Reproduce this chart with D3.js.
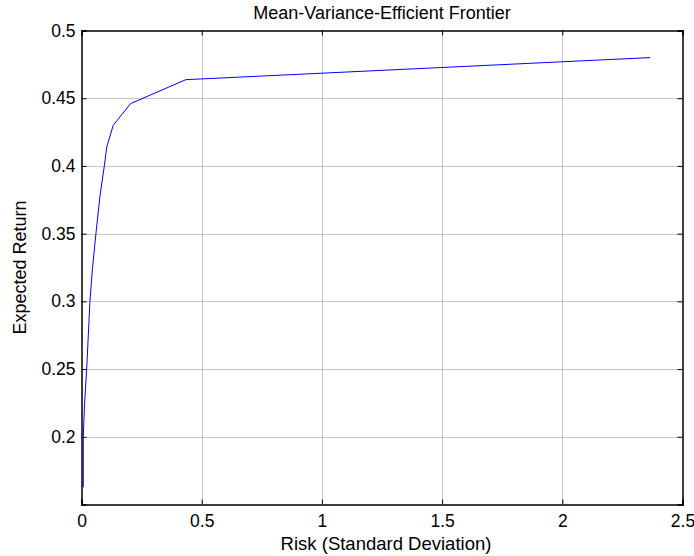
<!DOCTYPE html>
<html>
<head>
<meta charset="utf-8">
<script src="https://cdn.jsdelivr.net/npm/d3@7"></script>
<style>
  body { margin: 0; background: #fff; }
  svg text { font-family: "Liberation Sans", Arial, sans-serif; fill: #000; }
</style>
</head>
<body>
<script>
// Frontier points
const risk = [0.0075, 0.0075, 0.0125, 0.0216, 0.035, 0.045, 0.060, 0.077, 0.095, 0.105, 0.132, 0.204, 0.434, 2.366];
const ret  = [0.1627, 0.200, 0.2237, 0.250, 0.2998, 0.323, 0.350, 0.378, 0.400, 0.414, 0.430, 0.446, 0.4637, 0.480];
const xTicks = [0, 0.5, 1, 1.5, 2, 2.5];
const yTicks = [0.2, 0.25, 0.3, 0.35, 0.4, 0.45, 0.5];

const W = 694, H = 556;
const pLeft = 81.5, pRight = 682.5, pTop = 30.5, pBottom = 504.5;

const svg = d3.select('body').append('svg')
    .attr('width', W).attr('height', H);

const x = d3.scaleLinear().domain([0, 2.5]).range([pLeft, pRight]);
const y = d3.scaleLinear().domain([0.15, 0.5]).range([pBottom, pTop]);

// Grid
svg.append('g').selectAll('line')
    .data(xTicks.filter(d => d > 0 && d < 2.5))
    .enter().append('line')
    .attr('x1', d => Math.round(x(d)) + 0.5).attr('x2', d => Math.round(x(d)) + 0.5)
    .attr('y1', pTop).attr('y2', pBottom)
    .attr('stroke', '#8c8c8c').attr('stroke-dasharray', '1,1');
svg.append('g').selectAll('line')
    .data(yTicks.filter(d => d < 0.5))
    .enter().append('line')
    .attr('y1', d => Math.round(y(d)) + 0.5).attr('y2', d => Math.round(y(d)) + 0.5)
    .attr('x1', pLeft).attr('x2', pRight)
    .attr('stroke', '#8c8c8c').attr('stroke-dasharray', '1,1');

// Line
const line = d3.line().x((d, i) => x(risk[i])).y(d => y(d));
svg.append('path')
    .datum(ret)
    .attr('d', line)
    .attr('fill', 'none')
    .attr('stroke', '#0000ff')
    .attr('stroke-width', 1);

// Axes (ticks inside, box on all sides)
const fmt = d => String(d);
const axB = d3.axisBottom(x).tickValues(xTicks).tickSize(-5).tickPadding(10).tickFormat(fmt);
const axL = d3.axisLeft(y).tickValues(yTicks).tickSize(-5).tickPadding(6).tickFormat(fmt);
const axT = d3.axisTop(x).tickValues(xTicks).tickSize(-5).tickFormat('');
const axR = d3.axisRight(y).tickValues(yTicks).tickSize(-5).tickFormat('');

function style(g) {
  g.select('.domain').attr('stroke', '#000').attr('stroke-width', 1.5);
  g.selectAll('.tick line').attr('stroke', '#000');
  g.selectAll('.tick text').style('font-size', '17.5px').attr('fill', '#000');
}
svg.append('g').attr('transform', `translate(0,${pBottom})`).call(axB).call(style);
svg.append('g').attr('transform', `translate(${pLeft},0)`).call(axL).call(style);
svg.append('g').attr('transform', `translate(0,${pTop})`).call(axT).call(style);
svg.append('g').attr('transform', `translate(${pRight},0)`).call(axR).call(style);

// Title and labels
svg.append('text')
    .attr('x', (pLeft + pRight) / 2).attr('y', 19)
    .attr('text-anchor', 'middle').style('font-size', '18px')
    .text('Mean-Variance-Efficient Frontier');
svg.append('text')
    .attr('x', (pLeft + pRight) / 2 + 4).attr('y', 550)
    .attr('text-anchor', 'middle').style('font-size', '18.5px')
    .text('Risk (Standard Deviation)');
svg.append('text')
    .attr('transform', `translate(26,${(pTop + pBottom) / 2}) rotate(-90)`)
    .attr('text-anchor', 'middle').style('font-size', '18px')
    .text('Expected Return');
</script>
</body>
</html>
